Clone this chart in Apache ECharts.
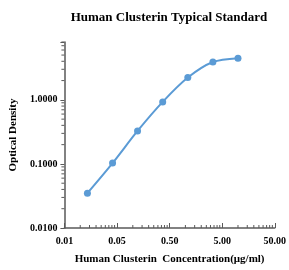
<!DOCTYPE html>
<html>
<head>
	<meta charset="utf-8">
	<title>Human Clusterin Typical Standard</title>
	<script src="https://cdn.jsdelivr.net/npm/echarts@6/dist/echarts.min.js"></script>
	<style>
		html, body { margin: 0; padding: 0; background: #fff; }
	</style>
</head>
<body>
	<div id="main" style="width: 289px;height:270px;"></div>

	<script>
		// 标准曲线数据（浓度 μg/ml, OD 值）
		var concentration = [0.0137, 0.0412, 0.123, 0.370, 1.111, 3.333, 10];
		var opticalDensity = [0.035, 0.103, 0.327, 0.93, 2.23, 3.90, 4.48];

		// 刻度标签
		var xTickLabels = ['0.01', '0.05', '0.50', '5.00', '50.00'];
		var yTickLabels = ['0.0100', '0.1000', '1.0000'];

		// 对数轴次刻度
		var minorSteps = [2, 3, 4, 5, 6, 7, 8, 9];
		var xDecades = [0.005, 0.05, 0.5, 5];
		var yDecades = [0.01, 0.1, 1];

		var xMin = 0.005, xMax = 50, yMin = 0.01, yMax = 8;
		var axisColor = '#595959';
		var serif = '"Liberation Serif", "DejaVu Serif", serif';

		function minorList(decades, max) {
			var out = [];
			decades.forEach(function (d) {
				minorSteps.forEach(function (k) {
					var v = d * k;
					if (v < max * 1.0001) out.push(v);
				});
			});
			return out;
		}
		var xMinor = minorList(xDecades, xMax);
		var yMinor = minorList(yDecades, yMax);

		var myChart = echarts.init(document.getElementById('main'));

		myChart.setOption({
			animation: false,
			title: {
				text: 'Human Clusterin Typical Standard',
				left: 164,
				top: 6,
				textAlign: 'center',
				textStyle: { fontFamily: serif, fontSize: 13, fontWeight: 'bold', color: '#000' }
			},
			grid: { left: 61, right: 10, top: 42, bottom: 37 },
			xAxis: {
				type: 'log',
				min: xMin,
				max: xMax,
				interval: 1,
				name: 'Human Clusterin  Concentration(μg/ml)',
				nameLocation: 'middle',
				nameGap: 26,
				nameTextStyle: { fontFamily: serif, fontSize: 11, fontWeight: 'bold', color: '#000' },
				axisLine: { lineStyle: { color: axisColor, width: 1.5 } },
				axisTick: { inside: true, length: 5, lineStyle: { color: axisColor } },
				axisLabel: {
					fontFamily: serif, fontSize: 10, fontWeight: 'bold', color: '#000', margin: 8,
					formatter: function (v, i) { return xTickLabels[i] || ''; }
				},
				splitLine: { show: false }
			},
			yAxis: {
				type: 'log',
				min: yMin,
				max: yMax,
				interval: 1,
				name: 'Optical Density',
				nameLocation: 'middle',
				nameGap: 42,
				nameTextStyle: { fontFamily: serif, fontSize: 11, fontWeight: 'bold', color: '#000' },
				axisLine: { lineStyle: { color: axisColor, width: 1.5 } },
				axisTick: { length: 4, lineStyle: { color: axisColor } },
				axisLabel: {
					fontFamily: serif, fontSize: 10, fontWeight: 'bold', color: '#000', margin: 7,
					formatter: function (v, i) { return yTickLabels[i] || ''; }
				},
				splitLine: { show: false }
			},
			series: [{
				type: 'line',
				data: concentration.map(function (x, i) { return [x, opticalDensity[i]]; }),
				smooth: 0.3,
				symbol: 'circle',
				symbolSize: 7,
				itemStyle: { color: '#5B9BD5' },
				lineStyle: { color: '#5B9BD5', width: 2 },
				z: 5
			}, {
				// x 轴次刻度
				type: 'custom',
				silent: true,
				clip: false,
				data: xMinor,
				encode: { x: 0 },
				renderItem: function (params, api) {
					var p = api.coord([api.value(0), yMin]);
					return { type: 'line', shape: { x1: p[0], y1: p[1], x2: p[0], y2: p[1] - 3 },
						style: { stroke: axisColor, lineWidth: 1 } };
				}
			}, {
				// y 轴次刻度
				type: 'custom',
				silent: true,
				clip: false,
				data: yMinor.map(function (v) { return [xMin, v]; }),
				renderItem: function (params, api) {
					var p = api.coord([xMin, api.value(1)]);
					return { type: 'line', shape: { x1: p[0] - 3, y1: p[1], x2: p[0], y2: p[1] },
						style: { stroke: axisColor, lineWidth: 1 } };
				}
			}]
		});
	</script>
</body>
</html>
